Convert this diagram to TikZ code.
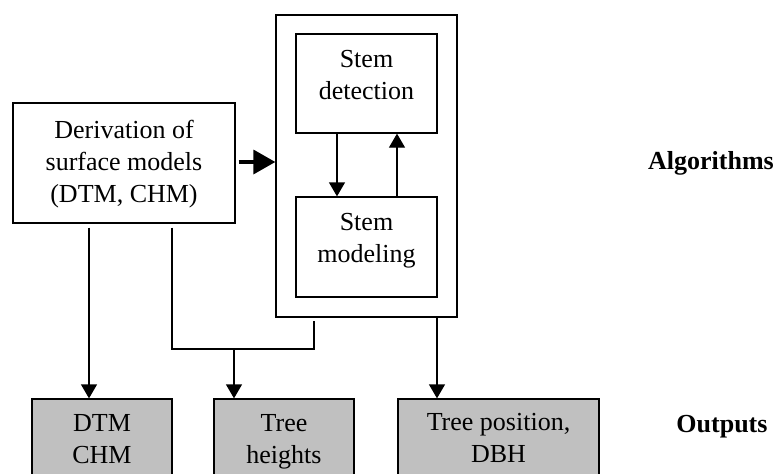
\documentclass[tikz,border=0pt]{standalone}
\usepackage{fontspec}
\setmainfont{Liberation Serif}
\usetikzlibrary{arrows.meta,calc}
\begin{document}
\begin{tikzpicture}[x=1pt,y=-1pt,
  box/.style={draw,line width=1.3pt,inner sep=0pt},
  outbox/.style={box,fill=boxgrey},
  txt/.style={inner sep=0pt,anchor=north,align=center,font=\fontsize{26}{32}\selectfont},
  lbl/.style={inner sep=0pt,anchor=base,font=\fontsize{26}{32}\selectfont\bfseries},
  conn/.style={line width=1.3pt},
  arr/.style={conn,-{Triangle[length=14pt,width=16pt]}},
  bigarr/.style={line width=3.5pt,-{Triangle[length=22pt,width=24pt]}}]
\definecolor{boxgrey}{RGB}{192,192,192}
\useasboundingbox (0,0) rectangle (777,474);
\fill[white] (0,0) rectangle (777,474);
\clip (0,0) rectangle (777,474);
% boxes
\node[box,minimum width=181pt,minimum height=302pt] (outer) at (366.5,166) {};
\node[box,minimum width=141pt,minimum height=99pt] (det) at (366.5,83.5) {};
\node[box,minimum width=141pt,minimum height=100pt] (mod) at (366.5,247) {};
\node[box,minimum width=222pt,minimum height=120pt] (der) at (124,163) {};
\node[outbox,minimum width=140pt,minimum height=100pt] (out1) at (102,449) {};
\node[outbox,minimum width=140pt,minimum height=100pt] (out2) at (284,449) {};
\node[outbox,minimum width=201pt,minimum height=100pt] (out3) at (498.5,449) {};
% texts
\node[txt] (tdet) at (366.5,50) {Stem\\detection};
\node[txt] (tmod) at (366.5,213) {Stem\\modeling};
\node[txt] (tder) at (124,120) {Derivation of\\surface models\\(DTM, CHM)};
\node[txt] (tout1) at (102,414) {DTM\\CHM};
\node[txt] (tout2) at (284,414) {Tree\\heights};
\node[txt] (tout3) at (498.5,413) {Tree position,\\DBH};
\node[lbl] (lalg) at (711,169) {Algorithms};
\node[lbl] (lout) at (722,432) {Outputs};
% connectors
\draw[bigarr] ($(der.east)+(3,-1)$) -- (outer.west |- 0,162);
\draw[arr] (det.south -| 337,0) -- (mod.north -| 337,0);
\draw[arr] (mod.north -| 397,0) -- (det.south -| 397,0);
\draw[arr] ($(der.south -| 89,0)+(0,4)$) -- (out1.north -| 89,0);
\coordinate (j) at (314,349);
\coordinate (k) at (234,349);
\draw[conn] ($(der.south -| 172,0)+(0,4)$) |- (j) -- ($(outer.south -| 314,0)+(0,3)$);
\draw[arr] (k) -- (out2.north -| 234,0);
\draw[arr] (outer.south -| 437,0) -- (out3.north -| 437,0);
\end{tikzpicture}
\end{document}
